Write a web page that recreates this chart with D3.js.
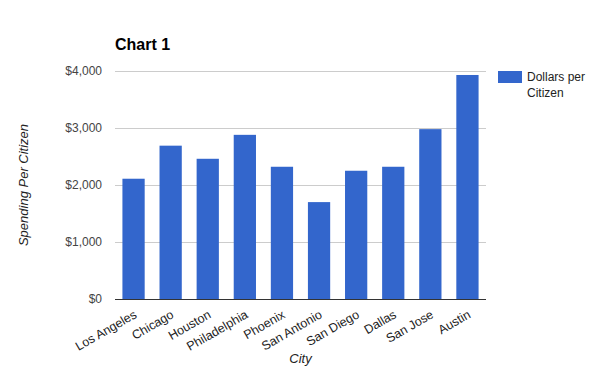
<!DOCTYPE html>
<html>
<head>
<meta charset="utf-8">
<script src="https://cdn.jsdelivr.net/npm/d3@7"></script>
<style>
  body { margin: 0; background: #fff; }
  svg { display: block; font-family: Arial, "Liberation Sans", sans-serif; }
</style>
</head>
<body>
<svg id="chart"></svg>
<script>
// chart data
var cities = ['Los Angeles', 'Chicago', 'Houston', 'Philadelphia', 'Phoenix',
  'San Antonio', 'San Diego', 'Dallas', 'San Jose', 'Austin'];
var dollars = [2110, 2690, 2460, 2880, 2320, 1700, 2250, 2320, 2980, 3930];
var y_ticks = [0, 1000, 2000, 3000, 4000];
var series_name = ['Dollars per', 'Citizen'];

// board size
var svg_w = 600, svg_h = 371;
var plot_left = 115, plot_right = 486, plot_top = 71, plot_bottom = 299;
var bar_color = '#3366cc';

var svg = d3.select('#chart').attr('width', svg_w).attr('height', svg_h);

var x_scale = d3.scaleBand().domain(cities)
  .range([plot_left, plot_right]).paddingInner(0.4).paddingOuter(0.2);
var y_scale = d3.scaleLinear().domain([0, 4000]).range([plot_bottom, plot_top]);

// grid lines + y labels
var y_axis = d3.axisLeft(y_scale).tickValues(y_ticks)
  .tickSize(-(plot_right - plot_left))
  .tickFormat(function(d){ return '$' + d3.format(',')(d); });
var gy = svg.append('g').attr('transform', 'translate(' + plot_left + ',0)').call(y_axis);
gy.select('.domain').remove();
gy.selectAll('.tick line').attr('stroke', '#cccccc').attr('shape-rendering', 'crispEdges');
gy.selectAll('.tick text').attr('x', -13).attr('fill', '#444')
  .attr('font-size', 12).attr('font-family', 'Arial, "Liberation Sans", sans-serif');

// bars
svg.append('g').selectAll('rect').data(cities).enter()
  .append('rect')
  .attr('x', function(d){ return x_scale(d); })
  .attr('y', function(d, i){ return y_scale(dollars[i]); })
  .attr('width', x_scale.bandwidth())
  .attr('height', function(d, i){ return y_scale(0) - y_scale(dollars[i]); })
  .attr('fill', bar_color);

// baseline
svg.append('line')
  .attr('x1', plot_left).attr('x2', plot_right)
  .attr('y1', y_scale(0)).attr('y2', y_scale(0))
  .attr('stroke', '#333').attr('shape-rendering', 'crispEdges');

// x labels, rotated
var x_axis = d3.axisBottom(x_scale).tickSize(0);
var gx = svg.append('g').attr('transform', 'translate(0,' + plot_bottom + ')').call(x_axis);
gx.select('.domain').remove();
gx.selectAll('.tick text')
  .attr('y', 0).attr('dy', 0)
  .attr('transform', 'translate(4,18) rotate(-30)')
  .attr('text-anchor', 'end').attr('fill', '#222')
  .attr('font-size', 12.5).attr('font-family', 'Arial, "Liberation Sans", sans-serif');

// title
svg.append('text').attr('x', plot_left).attr('y', 50)
  .attr('font-size', 16).attr('font-weight', 'bold').attr('fill', '#000')
  .text('Chart 1');

// axis titles
svg.append('text').attr('x', (plot_left + plot_right) / 2).attr('y', 363)
  .attr('text-anchor', 'middle').attr('font-style', 'italic')
  .attr('font-size', 13).attr('fill', '#222').text('City');
svg.append('text')
  .attr('transform', 'translate(28,' + (plot_top + plot_bottom) / 2 + ') rotate(-90)')
  .attr('text-anchor', 'middle').attr('font-style', 'italic')
  .attr('font-size', 13).attr('fill', '#222').text('Spending Per Citizen');

// legend
var legend = svg.append('g').attr('transform', 'translate(498,71)');
legend.append('rect').attr('width', 24).attr('height', 12).attr('fill', bar_color);
legend.selectAll('text').data(series_name).enter()
  .append('text')
  .attr('x', 29).attr('y', function(d, i){ return 10 + i * 16; })
  .attr('font-size', 12).attr('fill', '#222')
  .text(function(d){ return d; });
</script>
</body>
</html>
